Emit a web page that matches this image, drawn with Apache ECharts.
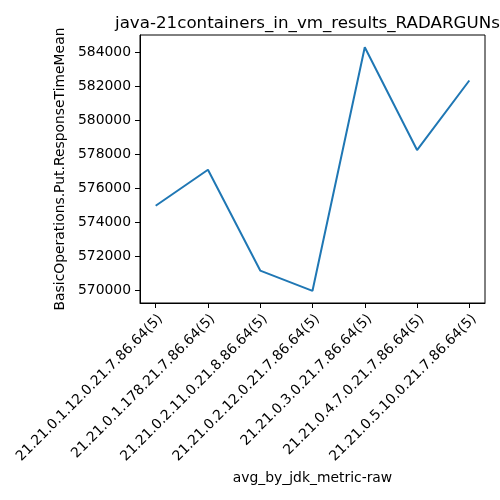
<!DOCTYPE html>
<html><head><meta charset="utf-8">
<script src="https://cdn.jsdelivr.net/npm/echarts@6/dist/echarts.min.js"></script>
<style>html,body{margin:0;padding:0;background:#fff}#c{width:500px;height:500px}</style>
</head><body><div id="c"></div>
<script>
const categories = [
  "21.21.0.1.12.0.21.7.86.64(5)",
  "21.21.0.1.178.21.7.86.64(5)",
  "21.21.0.2.11.0.21.8.86.64(5)",
  "21.21.0.2.12.0.21.7.86.64(5)",
  "21.21.0.3.0.21.7.86.64(5)",
  "21.21.0.4.7.0.21.7.86.64(5)",
  "21.21.0.5.10.0.21.7.86.64(5)"
];
const values = [574960, 577080, 571150, 569960, 584290, 578240, 582330];
const yTicks = [570000, 572000, 574000, 576000, 578000, 580000, 582000, 584000];
const titleText = "java-21containers_in_vm_results_RADARGUNs";
const xName = "avg_by_jdk_metric-raw";
const yName = "BasicOperations.Put.ResponseTimeMean";

const font = "DejaVu Sans";
const chart = echarts.init(document.getElementById('c'), null, {renderer: 'canvas'});
const xIdx = categories.map((_, i) => i);
chart.setOption({
  animation: false,
  backgroundColor: '#fff',
  title: {
    text: titleText, left: 110, top: 10,
    textStyle: {fontFamily: font, fontSize: 16.7, fontWeight: 'normal', color: '#000'}
  },
  grid: {left: 140, right: 15, top: 35, bottom: 197, show: true, borderColor: '#000', borderWidth: 1, backgroundColor: 'transparent'},
  xAxis: {
    type: 'value', min: -0.3, max: 6.3,
    name: xName, nameLocation: 'middle', nameGap: 168,
    nameTextStyle: {fontFamily: font, fontSize: 13.9, color: '#000'},
    axisLine: {show: true, onZero: false, lineStyle: {color: '#000', width: 1}},
    axisTick: {show: true, inside: false, length: 5, lineStyle: {color: '#000'}, customValues: xIdx},
    axisLabel: {
      rotate: 45, fontFamily: font, fontSize: 13.9, color: '#000', margin: 9,
      verticalAlign: 'top',
      customValues: xIdx,
      formatter: v => categories[Math.round(v)] || ''
    },
    splitLine: {show: false}
  },
  yAxis: {
    type: 'value', min: 569243, max: 585006,
    name: yName, nameLocation: 'middle', nameGap: 68,
    nameTextStyle: {fontFamily: font, fontSize: 13.9, color: '#000'},
    axisLine: {show: true, onZero: false, lineStyle: {color: '#000', width: 1}},
    axisTick: {show: true, inside: false, length: 5, lineStyle: {color: '#000'}, customValues: yTicks},
    axisLabel: {fontFamily: font, fontSize: 13.9, color: '#000', margin: 9, customValues: yTicks, formatter: v => String(v)},
    splitLine: {show: false}
  },
  series: [{
    type: 'line',
    data: values.map((v, i) => [i, v]),
    showSymbol: false,
    lineStyle: {color: '#1f77b4', width: 2},
    itemStyle: {color: '#1f77b4'}
  }]
});
</script></body></html>
